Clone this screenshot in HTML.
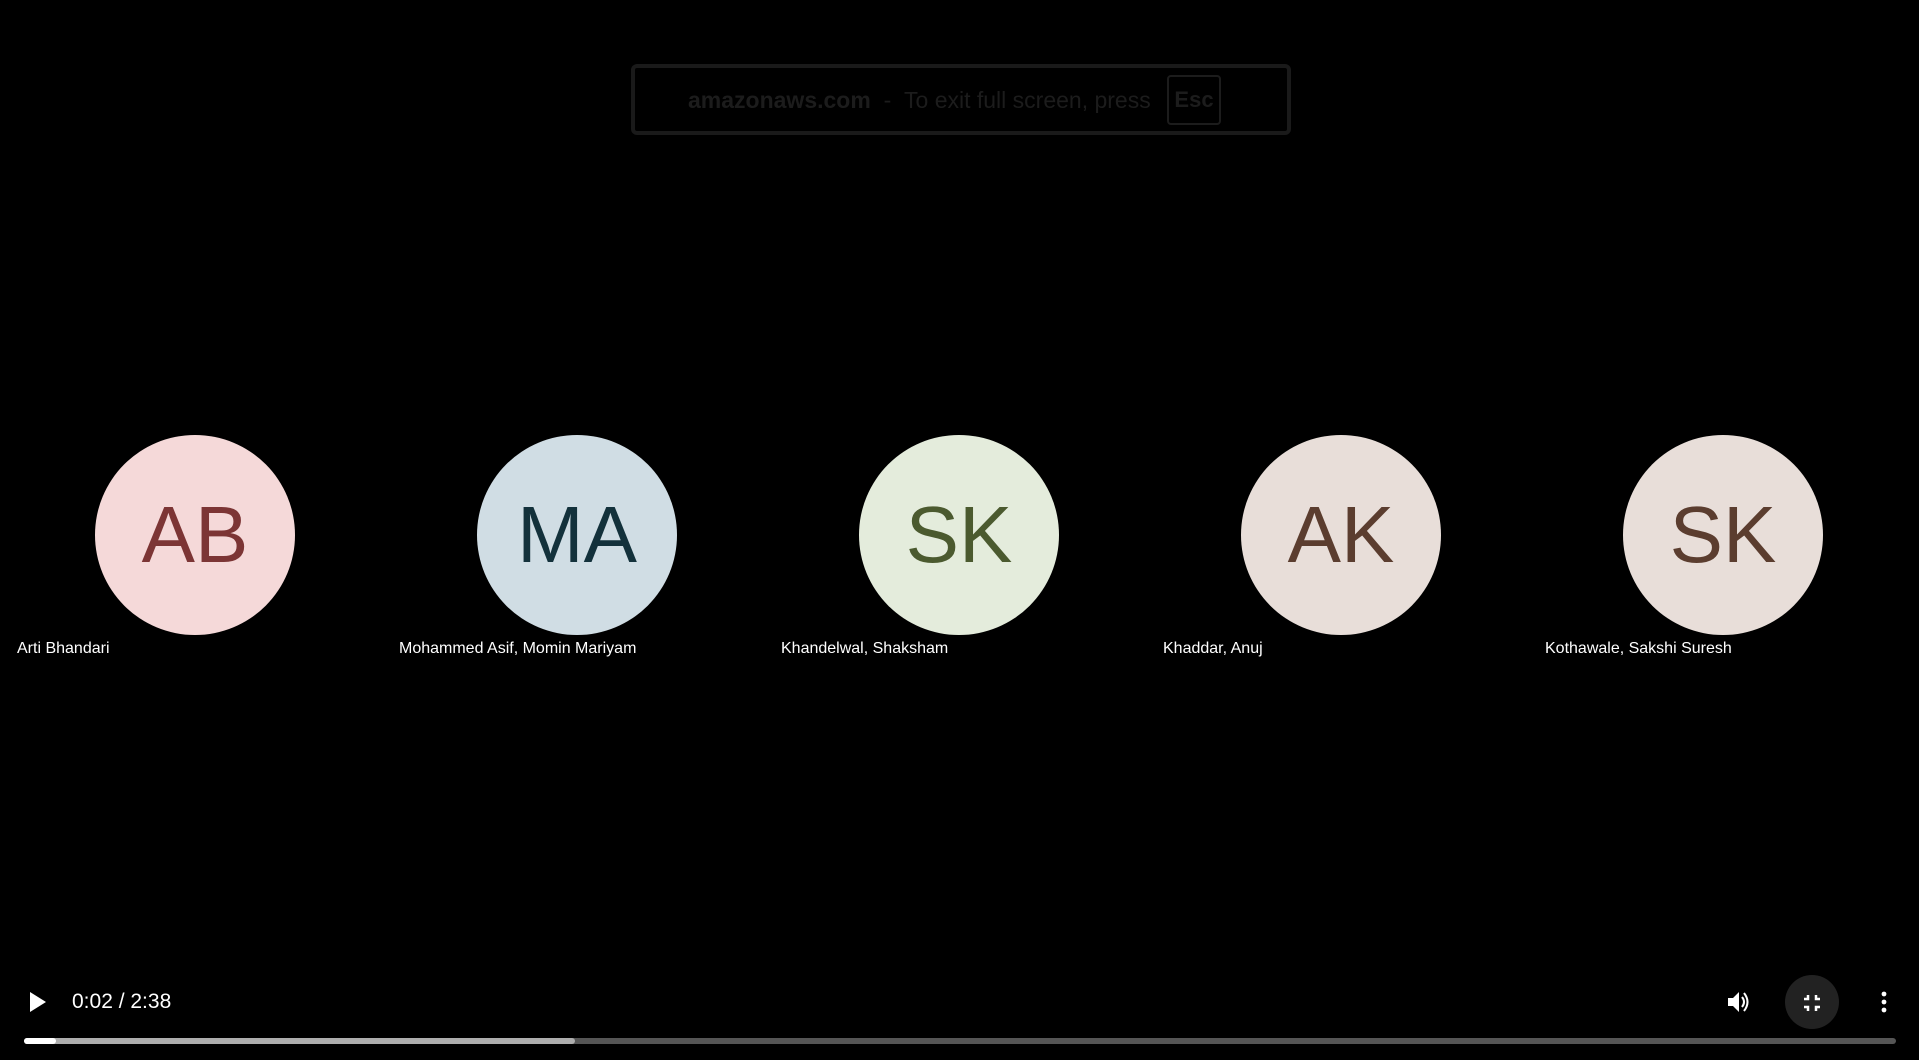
<!DOCTYPE html>
<html><head><meta charset="utf-8"><style>
html,body{margin:0;padding:0;background:#000;width:1919px;height:1060px;overflow:hidden;font-family:"Liberation Sans",sans-serif}
.abs{position:absolute}
.banner{left:631px;top:64px;width:660px;height:71px;border:4px solid #1a1a1a;border-radius:6px;box-sizing:border-box}
.btxt{left:688px;top:87px;font-size:23px;color:#1c1c1c;white-space:nowrap}
.esc{left:1167px;top:75px;width:54px;height:50px;border:2px solid #1c1c1c;border-radius:4px;box-sizing:border-box;color:#1c1c1c;font-weight:bold;font-size:22px;text-align:center;line-height:46px}
.av{width:200px;height:200px;border-radius:50%;top:435px;text-align:center;line-height:200px;font-size:80px}
.nm{top:640px;color:#fff;font-size:16px;white-space:nowrap}
</style></head><body>
<div class="abs banner"></div>
<div class="abs btxt"><b>amazonaws.com</b>&nbsp; - &nbsp;To exit full screen, press</div>
<div class="abs esc">Esc</div>

<div class="abs av" style="left:95px;background:#f5d9d9;color:#7c3535">AB</div>
<div class="abs av" style="left:477px;background:#d0dde4;color:#13313b">MA</div>
<div class="abs av" style="left:859px;background:#e4ecdc;color:#4b5a2f">SK</div>
<div class="abs av" style="left:1241px;background:#e8ded9;color:#5b3d2f">AK</div>
<div class="abs av" style="left:1623px;background:#e8ded9;color:#5b3d2f">SK</div>

<div class="abs nm" style="left:17px">Arti Bhandari</div>
<div class="abs nm" style="left:399px">Mohammed Asif, Momin Mariyam</div>
<div class="abs nm" style="left:781px">Khandelwal, Shaksham</div>
<div class="abs nm" style="left:1163px">Khaddar, Anuj</div>
<div class="abs nm" style="left:1545px">Kothawale, Sakshi Suresh</div>

<svg class="abs" style="left:28px;top:990px" width="20" height="24"><polygon points="2,2 18,12 2,22" fill="#fff"/></svg>
<div class="abs" style="left:72px;top:990px;color:#fff;font-size:21px">0:02 / 2:38</div>

<div class="abs" style="left:24px;top:1038px;width:1872px;height:6px;background:#555;border-radius:3px"></div>
<div class="abs" style="left:24px;top:1038px;width:551px;height:6px;background:#adadad;border-radius:3px"></div>
<div class="abs" style="left:24px;top:1038px;width:32px;height:6px;background:#fff;border-radius:3px"></div>

<svg class="abs" style="left:1726px;top:990px" width="26" height="24"><polygon points="2,8 7,8 13,2 13,22 7,16 2,16" fill="#fff"/><path d="M16,7 Q20,12 16,17" stroke="#fff" stroke-width="2" fill="none"/><path d="M18,3 Q25,12 18,21" stroke="#fff" stroke-width="2" fill="none"/></svg>
<div class="abs" style="left:1785px;top:975px;width:54px;height:54px;border-radius:50%;background:#222"></div>
<svg class="abs" style="left:1802px;top:993px" width="20" height="20"><path d="M2,6 H6 V2 M14,2 V6 H18 M2,14 H6 V18 M14,18 V14 H18" stroke="#fff" stroke-width="2.5" fill="none"/></svg>
<svg class="abs" style="left:1879px;top:990px" width="10" height="24"><circle cx="5" cy="4" r="2.4" fill="#fff"/><circle cx="5" cy="12" r="2.4" fill="#fff"/><circle cx="5" cy="20" r="2.4" fill="#fff"/></svg>
</body></html>
